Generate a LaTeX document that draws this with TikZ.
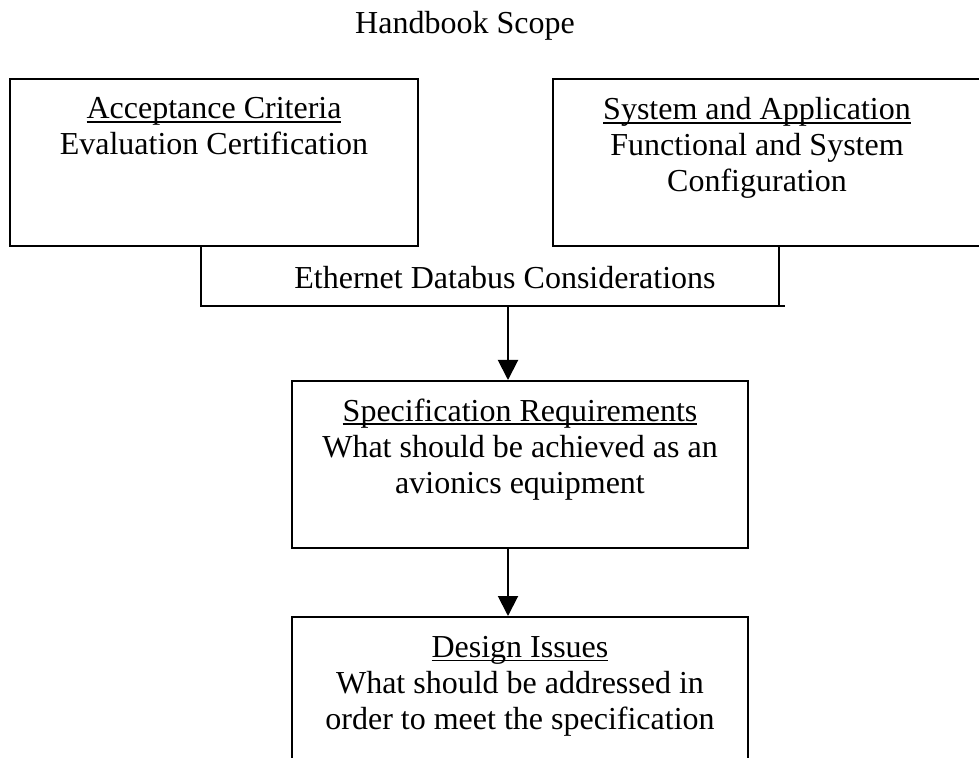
\documentclass[tikz,border=0pt]{standalone}
\usepackage{fontspec}
\setmainfont{Liberation Serif}
\usetikzlibrary{positioning,arrows.meta}
\newcommand{\ulhead}[1]{\setbox0\hbox{#1}\rlap{\rule[-1.6pt]{\wd0}{0.6pt}}\box0}
\newcommand{\topstrut}{\rule{0pt}{10pt}}

\begin{document}
\begin{tikzpicture}[x=0.4pt, y=-0.4pt, line width=0.8pt,
	blk/.style={draw, rectangle, inner sep=0pt},
	txt/.style={align=center, inner sep=0pt, font=\fontsize{12.8}{14.4}\selectfont},
	arr/.style={-{Triangle[width=8pt,length=8pt]}}]
	\useasboundingbox (0,0) rectangle (979,758);
	\clip (0,0) rectangle (979,758);
	\node[txt, anchor=base] (title) at (465,34) {Handbook Scope};
	% upper boxes
	\node[blk, minimum width=163.2pt, minimum height=66.8pt] (acc) at (214,162.5) {};
	\node[blk, minimum width=178.8pt, minimum height=66.8pt] (sys) at (776.5,162.5) {};
	\node[txt, below=6pt of acc.north] (acctxt) {\topstrut\ulhead{Acceptance Criteria}\\Evaluation Certification};
	\node[txt, anchor=north] (systxt) at (757,94) {\topstrut\ulhead{System and Application}\\Functional and System\\Configuration};
	% databus bar, open at the top
	\node[inner sep=0pt, minimum width=230.4pt, minimum height=23.2pt] (bus) at (490,276) {};
	\draw (bus.north west) -- (bus.south west) -- ([xshift=2.4pt]bus.south east);
	\draw (bus.north east) -- (bus.south east);
	\node[txt, anchor=base] (bustxt) at (505,289) {Ethernet Databus Considerations};
	% lower boxes
	\node[blk, minimum width=182.4pt, minimum height=66.8pt] (spec) at (520,464.5) {};
	\node[txt, below=6pt of spec.north] (spectxt) {\topstrut\ulhead{Specification Requirements}\\What should be achieved as an\\avionics equipment};
	\node[blk, minimum width=182.4pt, minimum height=66.8pt] (design) at (520,700.5) {};
	\node[txt, below=6pt of design.north] (designtxt) {\topstrut\ulhead{Design Issues}\\What should be addressed in\\order to meet the specification};
	% arrows
	\coordinate (ax) at (508,0);
	\draw[arr] (bus.south -| ax) -- (spec.north -| ax);
	\draw[arr] (spec.south -| ax) -- (design.north -| ax);
\end{tikzpicture}
\end{document}
